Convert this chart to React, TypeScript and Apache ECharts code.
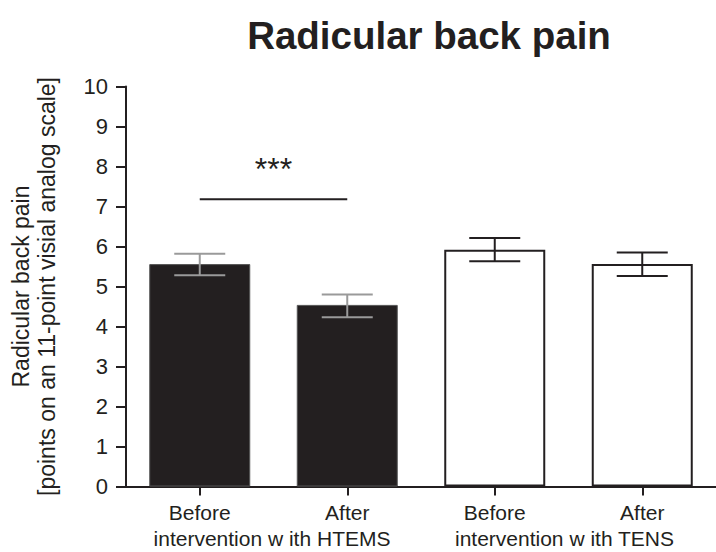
import React, { useEffect, useRef } from "react";
import * as echarts from "echarts";

// ---- data ----
const categories = ["Before", "After", "Before", "After"];
const groupLabels = ["intervention w ith HTEMS", "intervention w ith TENS"];
const means = [5.56, 4.54, 5.92, 5.56];
const lowerErr = [5.28, 4.23, 5.63, 5.26];
const upperErr = [5.82, 4.8, 6.21, 5.85];
const sigPair = [0, 1];
const sigLevel = 7.18;
const sigLabel = "***";
const yMin = 0;
const yMax = 10;
const yStep = 1;

const INK = "#231f20";
const FONT = "Liberation Sans, Arial, sans-serif";

export default function App() {
  const ref = useRef<HTMLDivElement>(null);

  useEffect(() => {
    if (!ref.current) return;
    const chart = echarts.init(ref.current, undefined, { renderer: "svg" });

    const barFill = ["#231f20", "#231f20", "#ffffff", "#ffffff"];
    const errColor = ["#9a9a9a", "#9a9a9a", INK, INK];
    const groupPad = [3, 8];

    const errData = categories.map((_, i) => [i, lowerErr[i], upperErr[i]]);

    chart.setOption({
      animation: false,
      backgroundColor: "#ffffff",
      textStyle: { fontFamily: FONT },
      title: {
        text: "Radicular back pain",
        left: 424,
        textAlign: "center",
        top: 11,
        textStyle: { fontFamily: FONT, fontSize: 38.5, fontWeight: "bold", color: INK },
      },
      grid: { left: 126, top: 86.5, width: 600, height: 400, containLabel: false },
      xAxis: [
        {
          type: "category",
          data: categories,
          position: "bottom",
          axisLine: { show: true, lineStyle: { color: INK, width: 2 } },
          axisTick: { show: true, alignWithLabel: true, length: 9, lineStyle: { color: INK, width: 2 } },
          axisLabel: { interval: 0, fontSize: 21, color: INK, margin: 15, fontFamily: FONT },
        },
        {
          type: "category",
          data: groupLabels.map((g, i) => ({ value: g, textStyle: { padding: [0, groupPad[i], 0, 0] } })),
          position: "bottom",
          offset: 26,
          gridIndex: 0,
          axisLine: { show: false },
          axisTick: { show: false },
          axisLabel: { interval: 0, fontSize: 21, color: INK, margin: 15, fontFamily: FONT },
        },
      ],
      yAxis: {
        type: "value",
        min: yMin,
        max: yMax,
        interval: yStep,
        name: "Radicular back pain\n[points on an 11-point visial analog scale]",
        nameLocation: "middle",
        nameRotate: 90,
        nameGap: 66,
        nameTextStyle: { fontSize: 23, color: INK, fontFamily: FONT, lineHeight: 26 },
        axisLine: { show: true, lineStyle: { color: INK, width: 2 } },
        axisTick: { show: true, length: 10, lineStyle: { color: INK, width: 2 } },
        axisLabel: { fontSize: 22, color: INK, margin: 18, fontFamily: FONT },
        splitLine: { show: false },
      },
      series: [
        {
          type: "bar",
          xAxisIndex: 0,
          barWidth: 101,
          data: means.map((v, i) => ({
            value: v,
            itemStyle: {
              color: barFill[i],
              borderColor: i < 2 ? "#555555" : INK,
              borderWidth: i < 2 ? 1 : 2,
            },
          })),
        },
        {
          type: "custom",
          xAxisIndex: 0,
          encode: { x: 0, y: [1, 2] },
          data: errData,
          z: 5,
          renderItem: (params: any, api: any) => {
            const i = api.value(0);
            const lo = api.coord([i, api.value(1)]);
            const hi = api.coord([i, api.value(2)]);
            const half = 25.5;
            const style = { stroke: errColor[params.dataIndex], lineWidth: 2 };
            return {
              type: "group",
              children: [
                { type: "line", shape: { x1: lo[0], y1: lo[1], x2: hi[0], y2: hi[1] }, style },
                { type: "line", shape: { x1: hi[0] - half, y1: hi[1], x2: hi[0] + half, y2: hi[1] }, style },
                { type: "line", shape: { x1: lo[0] - half, y1: lo[1], x2: lo[0] + half, y2: lo[1] }, style },
              ],
            };
          },
        },
        {
          type: "custom",
          xAxisIndex: 0,
          encode: { x: [0, 1], y: 2 },
          data: [[sigPair[0], sigPair[1], sigLevel]],
          z: 6,
          renderItem: (params: any, api: any) => {
            const a = api.coord([api.value(0), api.value(2)]);
            const b = api.coord([api.value(1), api.value(2)]);
            return {
              type: "group",
              children: [
                {
                  type: "line",
                  shape: { x1: a[0], y1: a[1], x2: b[0], y2: b[1] },
                  style: { stroke: INK, lineWidth: 2 },
                },
                {
                  type: "text",
                  x: (a[0] + b[0]) / 2,
                  y: a[1] - 30,
                  style: {
                    text: sigLabel,
                    fontSize: 32,
                    fontFamily: FONT,
                    fill: INK,
                    align: "center",
                    verticalAlign: "middle",
                  },
                },
              ],
            };
          },
        },
      ],
    });

    return () => chart.dispose();
  }, []);

  return (
    <div
      ref={ref}
      style={{ position: "fixed", left: 0, top: 0, width: 716, height: 552, background: "#fff" }}
    />
  );
}
